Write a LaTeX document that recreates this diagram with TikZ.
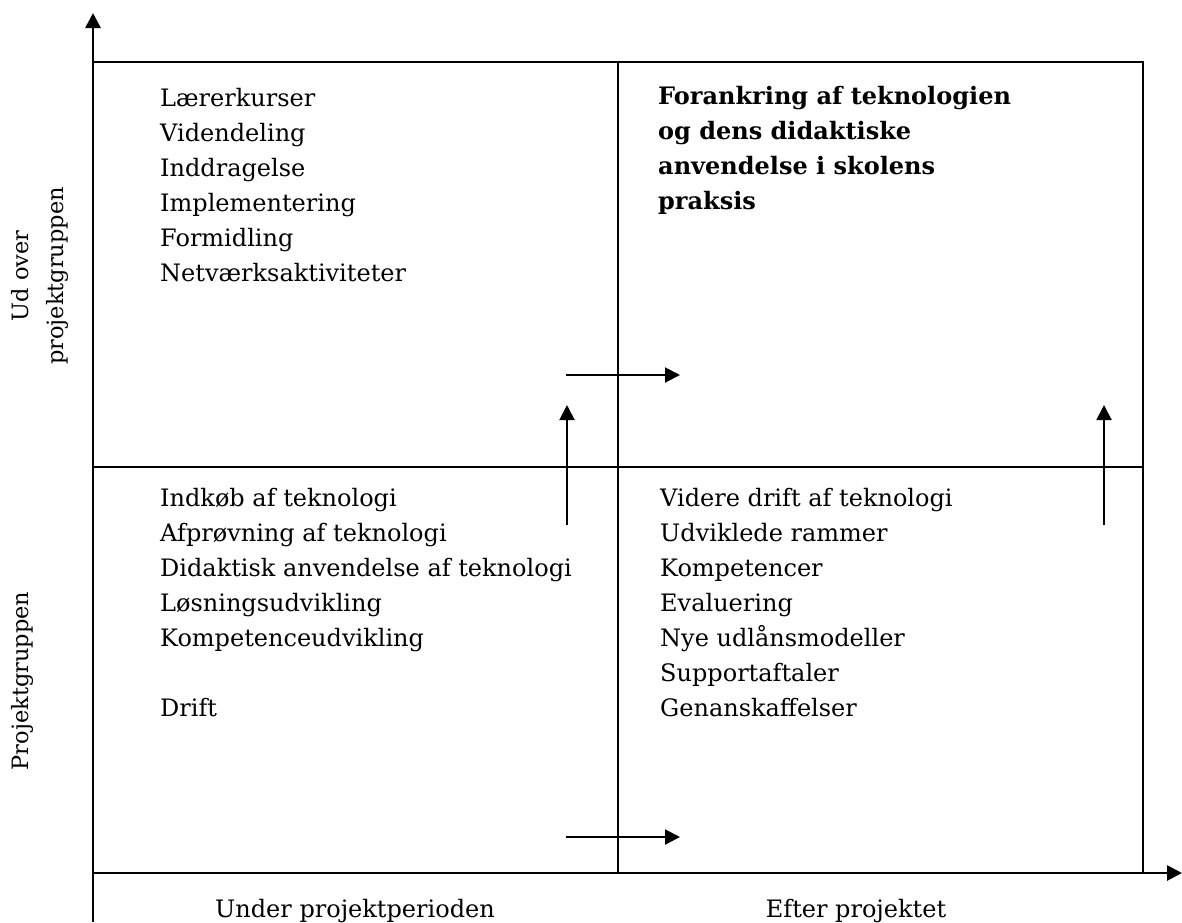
\documentclass[tikz,border=0pt]{standalone}
\usepackage{fontspec}
\setmainfont{DejaVu Serif}
\usetikzlibrary{arrows.meta}

\tikzset{
  quadtext/.style={anchor=north west, inner sep=0pt, align=left, font=\fontsize{24}{35}\selectfont},
  axislabel/.style={inner sep=0pt, align=center, font=\fontsize{24}{35}\selectfont},
  frameline/.style={line width=2pt},
  axisline/.style={line width=2.7pt, -{Triangle[length=15pt,width=15pt]}},
  moveline/.style={line width=2pt, -{Triangle[length=15pt,width=15pt]}}
}

\begin{document}
\begin{tikzpicture}[x=1pt, y=-1pt]
  \useasboundingbox (0,0) rectangle (1182,922);
  \coordinate (origin) at (93,873); \coordinate (ytip) at (93,13);
  \coordinate (ybot) at (93,922); \coordinate (xtip) at (1182,873);
  \coordinate (topleft) at (93,62); \coordinate (topright) at (1143,62);
  \coordinate (botright) at (1143,873); \coordinate (midtop) at (618,62);
  \coordinate (midbot) at (618,873); \coordinate (midleft) at (93,467);
  \coordinate (midright) at (1143,467);
  \draw[frameline] (topleft) -- (topright) -- (botright);
  \draw[frameline] (midtop) -- (midbot); \draw[frameline] (midleft) -- (midright);
  \draw[axisline] (ybot) -- (ytip); \draw[axisline] (origin) -- (xtip);
  \node (spread) [quadtext] at (160,88) {L\ae rerkurser\\Videndeling\\Inddragelse\\Implementering\\Formidling\\Netv\ae rksaktiviteter};
  \node (anchoring) [quadtext, font=\fontsize{24}{35}\selectfont\bfseries] at (658,86) {Forankring af teknologien\\og dens didaktiske\\anvendelse i skolens\\praksis};
  \node (project) [quadtext] at (160,488) {Indk\o b af teknologi\\Afpr\o vning af teknologi\\Didaktisk anvendelse af teknologi\\L\o sningsudvikling\\Kompetenceudvikling\\[35pt]Drift};
  \node (after) [quadtext] at (660,488) {Videre drift af teknologi\\Udviklede rammer\\Kompetencer\\Evaluering\\Nye udl\aa nsmodeller\\Supportaftaler\\Genanskaffelser};
  \node (during) [axislabel, anchor=base] at (355,917) {Under projektperioden};
  \node (efter) [axislabel, anchor=base] at (856,917) {Efter projektet};
  \node (beyond) [axislabel, rotate=90, font=\fontsize{22.5}{35}\selectfont] at (40,276) {Ud over\\projektgruppen};
  \node (group) [axislabel, rotate=90, font=\fontsize{22.5}{35}\selectfont] at (22,681) {Projektgruppen};
  \coordinate (upfrom) at (566,375); \coordinate (upto) at (680,375);
  \coordinate (lowfrom) at (566,837); \coordinate (lowto) at (680,837);
  \coordinate (leftfrom) at (567,525); \coordinate (leftto) at (567,405);
  \coordinate (rightfrom) at (1104,525); \coordinate (rightto) at (1104,405);
  \draw[moveline] (upfrom) -- (upto); \draw[moveline] (lowfrom) -- (lowto);
  \draw[moveline] (leftfrom) -- (leftto); \draw[moveline] (rightfrom) -- (rightto);
\end{tikzpicture}
\end{document}
